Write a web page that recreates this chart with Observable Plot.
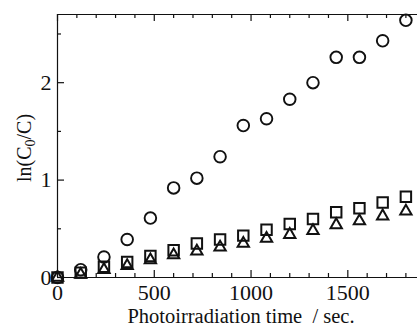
<!DOCTYPE html>
<html>
<head>
<meta charset="utf-8">
<script src="https://cdn.jsdelivr.net/npm/d3@7"></script>
<script src="https://cdn.jsdelivr.net/npm/@observablehq/plot@0.6"></script>
<style>
  html, body { margin: 0; padding: 0; background: #fff; }
  #chart svg { display: block; }
</style>
</head>
<body>
<div id="chart"></div>
<script>
// Data
const times = [0, 120, 240, 360, 480, 600, 720, 840, 960, 1080, 1200, 1320, 1440, 1560, 1680, 1800];
const circleVals = [0, 0.08, 0.21, 0.39, 0.61, 0.92, 1.02, 1.24, 1.56, 1.63, 1.83, 2.00, 2.26, 2.26, 2.43, 2.64];
const squareVals = [0, 0.05, 0.11, 0.16, 0.22, 0.28, 0.35, 0.39, 0.43, 0.49, 0.55, 0.60, 0.67, 0.71, 0.77, 0.83];
const triangleVals = [0, 0.03, 0.08, 0.12, 0.18, 0.23, 0.27, 0.31, 0.35, 0.40, 0.44, 0.48, 0.54, 0.58, 0.63, 0.68];

const xDomain = [0, 1860];
const yDomain = [0, 2.7];
const xMajor = [0, 500, 1000, 1500];
const xMinor = [100, 200, 300, 400, 600, 700, 800, 900, 1100, 1200, 1300, 1400, 1600, 1700, 1800];
const yMajor = [0, 1, 2];
const yMinor = [0.5, 1.5, 2.5];
const xTitle = "Photoirradiation time\u00a0\u00a0/ sec.";

const W = 417, H = 327;
const mL = 57, mR = 0, mT = 14, mB = 50;
const frameH = H - mT - mB;
const frameW = W - mL - mR;

const rows = (vals) => times.map((t, i) => ({t, v: vals[i]}));
const font = "'Liberation Serif', 'Times New Roman', serif";
const ink = "#111";

const plot = Plot.plot({
  width: W,
  height: H,
  marginLeft: mL,
  marginRight: mR,
  marginTop: mT,
  marginBottom: mB,
  style: {fontFamily: font, background: "#fff", color: ink, overflow: "visible"},
  x: {domain: xDomain, axis: null},
  y: {domain: yDomain, axis: null},
  marks: [
    // frame (left, bottom, top)
    Plot.ruleX([xDomain[0]], {stroke: ink, strokeWidth: 1.2}),
    Plot.ruleY([yDomain[0]], {stroke: ink, strokeWidth: 1.2}),
    Plot.ruleY([yDomain[1]], {stroke: ink, strokeWidth: 1.2}),
    // inward ticks, bottom
    Plot.tickX(xMajor, {x: d => d, stroke: ink, strokeWidth: 1.2, insetTop: frameH - 7}),
    Plot.tickX(xMinor, {x: d => d, stroke: ink, strokeWidth: 1.2, insetTop: frameH - 4}),
    // inward ticks, top
    Plot.tickX(xMajor, {x: d => d, stroke: ink, strokeWidth: 1.2, insetBottom: frameH - 7}),
    Plot.tickX(xMinor, {x: d => d, stroke: ink, strokeWidth: 1.2, insetBottom: frameH - 4}),
    // inward ticks, left
    Plot.tickY(yMajor, {y: d => d, stroke: ink, strokeWidth: 1.2, insetRight: frameW - 7}),
    Plot.tickY(yMinor, {y: d => d, stroke: ink, strokeWidth: 1.2, insetRight: frameW - 4}),
    // tick labels
    Plot.axisX({ticks: xMajor, tickSize: 0, tickPadding: 7, fontSize: 22, label: null, tickFormat: d => String(d)}),
    Plot.axisY({ticks: yMajor, tickSize: 0, tickPadding: 6, fontSize: 22, label: null, tickFormat: d => String(d)}),
    // data
    Plot.dot(rows(squareVals), {x: "t", y: "v", symbol: "square", r: 5.9, stroke: ink, strokeWidth: 2, fill: "none"}),
    Plot.dot(rows(triangleVals), {x: "t", y: "v", symbol: "triangle", r: 4.2, stroke: ink, strokeWidth: 2, fill: "none"}),
    Plot.dot(rows(circleVals), {x: "t", y: "v", symbol: "circle", r: 5.8, stroke: ink, strokeWidth: 1.9, fill: "none"})
  ]
});

const svg = d3.select(plot);
// x-axis title
svg.append("text")
  .attr("x", 241)
  .attr("y", 323)
  .attr("text-anchor", "middle")
  .attr("font-family", font)
  .attr("font-size", 20.5)
  .attr("fill", ink)
  .text(xTitle);
// y-axis title with subscript
const yt = svg.append("text")
  .attr("transform", `translate(${31},${148}) rotate(-90)`)
  .attr("text-anchor", "middle")
  .attr("font-family", font)
  .attr("font-size", 20)
  .attr("fill", ink);
yt.append("tspan").text("ln(C");
yt.append("tspan").attr("font-size", 14).attr("dy", 4).text("0");
yt.append("tspan").attr("dy", -4).text("/C)");

document.getElementById("chart").appendChild(plot);
</script>
</body>
</html>
